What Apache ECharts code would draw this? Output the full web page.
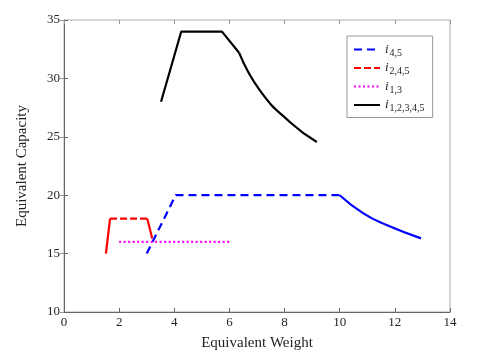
<!DOCTYPE html>
<html>
<head>
<meta charset="utf-8">
<script src="https://cdn.jsdelivr.net/npm/echarts@6/dist/echarts.min.js"></script>
<style>
html, body { margin: 0; padding: 0; background: #fff; }
#main { width: 498px; height: 359px; }
</style>
</head>
<body>
<div id="main"></div>
<script>
// points, [weight, capacity]
const blueDash = [[3.0, 15.0], [4.05, 20.0], [10.0, 20.0]];
const blueCurve = [[10.0, 20.0], [10.86, 18.44], [11.7, 17.44], [12.95, 16.3]];
const redUp = [[1.52, 15.0], [1.67, 18.0]];
const redFlat = [[1.67, 18.0], [3.02, 18.0]];
const redDown = [[3.02, 18.0], [3.2, 16.3]];
const magentaDot = [[2.0, 16.0], [6.0, 16.0]];
const blackPoly = [[3.52, 28.0], [4.25, 34.0], [5.73, 34.0], [6.35, 32.2]];
const blackCurve = [[6.35, 32.2], [7.11, 28.95], [8.2, 26.25], [9.17, 24.55]];

const xTicks = [0, 2, 4, 6, 8, 10, 12, 14];
const yTicks = [10, 15, 20, 25, 30, 35];

const legendNames = ['i45', 'i245', 'i13', 'i12345'];
const legendSubs = { i45: '4,5', i245: '2,4,5', i13: '1,3', i12345: '1,2,3,4,5' };

const serif = '"Liberation Serif", "DejaVu Serif", serif';
const chart = echarts.init(document.getElementById('main'));

function line(name, data, color, type, smooth) {
    return {
        name: name,
        type: 'line',
        data: data,
        symbol: 'none',
        smooth: smooth ? 0.5 : false,
        animation: false,
        lineStyle: { color: color, width: 2.2, type: type },
        itemStyle: { color: color }
    };
}

const option = {
    animation: false,
    grid: { left: 64, right: 48, top: 20, bottom: 47, show: true, borderColor: '#aaa', borderWidth: 1 },
    legend: {
        data: legendNames,
        orient: 'vertical',
        left: 347,
        top: 36,
        padding: [5, 8, 4, 6],
        itemGap: 1.5,
        itemWidth: 26,
        itemHeight: 12,
        borderColor: '#999',
        borderWidth: 1,
        backgroundColor: '#fff',
        itemStyle: { opacity: 0 },
        formatter: function (name) {
            return '{i|i}{s|' + legendSubs[name] + '}';
        },
        textStyle: {
            fontFamily: serif,
            color: '#222',
            rich: {
                i: { fontFamily: serif, fontStyle: 'italic', fontSize: 13, color: '#222', lineHeight: 15 },
                s: { fontFamily: serif, fontSize: 10, color: '#222', padding: [7, 0, 0, 1], lineHeight: 15 }
            }
        }
    },
    xAxis: [{
        type: 'value',
        min: 0, max: 14, interval: 2,
        name: 'Equivalent Weight',
        nameLocation: 'middle',
        nameGap: 24,
        nameTextStyle: { fontFamily: serif, fontSize: 15, color: '#222' },
        axisLine: { show: true, lineStyle: { color: '#666' } },
        axisTick: { inside: true, length: 4, lineStyle: { color: '#666' } },
        axisLabel: { fontFamily: serif, fontSize: 13, color: '#262626', margin: 4,
            formatter: v => xTicks.includes(v) ? String(v) : '' },
        splitLine: { show: false }
    }, {
        type: 'value', position: 'top',
        min: 0, max: 14, interval: 2,
        axisLine: { show: false },
        axisTick: { inside: true, length: 4, lineStyle: { color: '#999' } },
        axisLabel: { show: false },
        splitLine: { show: false }
    }],
    yAxis: [{
        type: 'value',
        min: 10, max: 35, interval: 5,
        name: 'Equivalent Capacity',
        nameLocation: 'middle',
        nameGap: 34,
        nameTextStyle: { fontFamily: serif, fontSize: 15, color: '#222' },
        axisLine: { show: true, lineStyle: { color: '#666' } },
        axisTick: { inside: true, length: 4, lineStyle: { color: '#666' } },
        axisLabel: { fontFamily: serif, fontSize: 13, color: '#262626', margin: 4,
            formatter: v => yTicks.includes(v) ? String(v) : '' },
        splitLine: { show: false }
    }, {
        type: 'value', position: 'right',
        min: 10, max: 35, interval: 5,
        axisLine: { show: false },
        axisTick: { inside: true, length: 4, lineStyle: { color: '#999' } },
        axisLabel: { show: false },
        splitLine: { show: false }
    }],
    series: [
        line('i45', blueDash, '#0000ff', [8, 5], false),
        line('i45b', blueCurve, '#0000ff', 'solid', true),
        line('i245', redFlat, '#ff0000', [7, 3], false),
        line('i245a', redUp, '#ff0000', 'solid', false),
        line('i245c', redDown, '#ff0000', 'solid', false),
        line('i13', magentaDot, '#ff00ff', [2, 2.5], false),
        line('i12345', blackPoly, '#000000', 'solid', false),
        line('i12345b', blackCurve, '#000000', 'solid', true)
    ]
};
chart.setOption(option);
</script>
</body>
</html>
